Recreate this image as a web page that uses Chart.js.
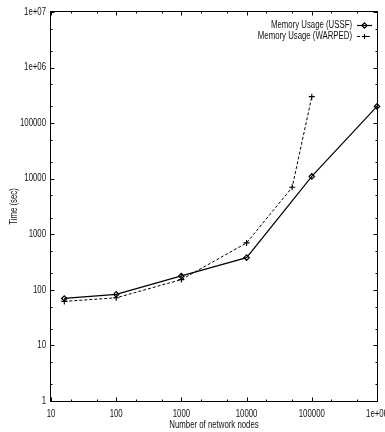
<!DOCTYPE html>
<html>
<head>
<meta charset="utf-8">
<script src="https://cdn.jsdelivr.net/npm/chart.js@4/dist/chart.umd.min.js"></script>
<style>
  html, body { margin: 0; padding: 0; background: #fff; }
  #wrap { width: 385px; height: 432px; }
</style>
</head>
<body>
<div id="wrap"><canvas id="c" width="385" height="432"></canvas></div>
<script>
// Run time against network size, log-log
const ussfNodes   = [16, 100, 1000, 10000, 100000, 1000000];
const ussfTime    = [70, 83, 178, 380, 11000, 200000];
const warpedNodes = [16, 100, 1000, 10000, 50000, 100000];
const warpedTime  = [62, 72, 153, 700, 7000, 300000];

const seriesNames = ['Memory Usage (USSF)', 'Memory Usage (WARPED)'];

const xTickValues = [10, 100, 1000, 10000, 100000, 1000000];
const xTickLabels = ['10', '100', '1000', '10000', '100000', '1e+06'];
const yTickValues = [1, 10, 100, 1000, 10000, 100000, 1000000, 10000000];
const yTickLabels = ['1', '10', '100', '1000', '10000', '100000', '1e+06', '1e+07'];
const minorSteps  = [2, 5];

const xTitle = 'Number of network nodes';
const yTitle = 'Time (sec)';

const FONT = '10px "Liberation Sans", Arial, sans-serif';
const SQUEEZE = 0.78;

function toPoints(xs, ys) {
  return xs.map((x, i) => ({ x: x, y: ys[i] }));
}

function narrowText(ctx, str, x, y, align, baseline, rot) {
  ctx.save();
  ctx.translate(x, y);
  if (rot) ctx.rotate(rot);
  ctx.scale(SQUEEZE, 1);
  ctx.font = FONT;
  ctx.fillStyle = '#111';
  ctx.textAlign = align;
  ctx.textBaseline = baseline;
  ctx.fillText(str, 0, 0);
  ctx.restore();
}

function drawDiamond(ctx, x, y, r) {
  ctx.beginPath();
  ctx.moveTo(x, y - r);
  ctx.lineTo(x + r, y);
  ctx.lineTo(x, y + r);
  ctx.lineTo(x - r, y);
  ctx.closePath();
  ctx.stroke();
}

function drawPlus(ctx, x, y, r) {
  ctx.beginPath();
  ctx.moveTo(x - r, y); ctx.lineTo(x + r, y);
  ctx.moveTo(x, y - r); ctx.lineTo(x, y + r);
  ctx.stroke();
}

// Frame, inward tics on all four sides, tic labels, axis titles and key
const gnuFrame = {
  id: 'gnuFrame',
  afterDraw(chart) {
    const ctx = chart.ctx;
    const a = chart.chartArea;
    const xs = chart.scales.x, ys = chart.scales.y;
    const L = Math.round(a.left) - 0.5, R = Math.round(a.right) + 0.5;
    const T = Math.round(a.top) - 0.5, B = Math.round(a.bottom) + 0.5;

    ctx.save();
    ctx.strokeStyle = '#000';
    ctx.lineWidth = 1;
    ctx.setLineDash([]);
    ctx.strokeRect(L, T, R - L, B - T);

    const major = 4, minor = 2;
    ctx.beginPath();
    xTickValues.forEach((v, i) => {
      const px = Math.round(xs.getPixelForValue(v)) + 0.5;
      ctx.moveTo(px, B); ctx.lineTo(px, B - major);
      ctx.moveTo(px, T); ctx.lineTo(px, T + major);
      if (i < xTickValues.length - 1) {
        minorSteps.forEach(m => {
          const mx = Math.round(xs.getPixelForValue(v * m)) + 0.5;
          ctx.moveTo(mx, B); ctx.lineTo(mx, B - minor);
          ctx.moveTo(mx, T); ctx.lineTo(mx, T + minor);
        });
      }
    });
    yTickValues.forEach((v, i) => {
      const py = Math.round(ys.getPixelForValue(v)) + 0.5;
      ctx.moveTo(L, py); ctx.lineTo(L + major, py);
      ctx.moveTo(R, py); ctx.lineTo(R - major, py);
      if (i < yTickValues.length - 1) {
        minorSteps.forEach(m => {
          const my = Math.round(ys.getPixelForValue(v * m)) + 0.5;
          ctx.moveTo(L, my); ctx.lineTo(L + minor, my);
          ctx.moveTo(R, my); ctx.lineTo(R - minor, my);
        });
      }
    });
    ctx.stroke();

    xTickValues.forEach((v, i) => {
      narrowText(ctx, xTickLabels[i], xs.getPixelForValue(v), a.bottom + 13, 'center', 'middle');
    });
    yTickValues.forEach((v, i) => {
      narrowText(ctx, yTickLabels[i], a.left - 5, ys.getPixelForValue(v), 'right', 'middle');
    });

    narrowText(ctx, xTitle, (a.left + a.right) / 2, a.bottom + 24, 'center', 'middle');
    narrowText(ctx, yTitle, 14, (a.top + a.bottom) / 2, 'center', 'middle', -Math.PI / 2);

    // key, top right
    const keyRows = [a.top + 13, a.top + 24];
    const textRight = a.right - 25;
    const s0 = a.right - 20, s1 = a.right - 5;
    const mid = (s0 + s1) / 2;
    chart.data.datasets.forEach((ds, i) => {
      const y = keyRows[i];
      narrowText(ctx, seriesNames[i], textRight, y, 'right', 'middle');
      ctx.strokeStyle = '#000';
      ctx.lineWidth = ds.borderWidth;
      ctx.setLineDash(ds.borderDash || []);
      ctx.beginPath();
      ctx.moveTo(s0, y + 0.5); ctx.lineTo(s1, y + 0.5);
      ctx.stroke();
      ctx.setLineDash([]);
      ctx.lineWidth = 1.2;
      if (i === 0) drawDiamond(ctx, mid, y + 0.5, 2.6);
      else drawPlus(ctx, mid, y + 0.5, 2.6);
    });
    ctx.restore();
  }
};

new Chart(document.getElementById('c'), {
  type: 'line',
  data: {
    datasets: [
      {
        label: seriesNames[0],
        data: toPoints(ussfNodes, ussfTime),
        borderColor: '#000',
        borderWidth: 1.2,
        pointStyle: 'rectRot',
        pointRadius: 2.7,
        pointBorderWidth: 1.2,
        pointBorderColor: '#000',
        pointBackgroundColor: 'rgba(0,0,0,0)',
        fill: false,
        tension: 0,
        clip: 6
      },
      {
        label: seriesNames[1],
        data: toPoints(warpedNodes, warpedTime),
        borderColor: '#000',
        borderWidth: 1,
        borderDash: [3, 2],
        pointStyle: 'cross',
        pointRadius: 3,
        pointBorderWidth: 1.1,
        pointBorderColor: '#000',
        fill: false,
        tension: 0,
        clip: 6
      }
    ]
  },
  options: {
    responsive: false,
    animation: false,
    devicePixelRatio: 1,
    layout: { padding: { left: 0, right: 8, top: 12, bottom: 0 } },
    plugins: { legend: { display: false }, tooltip: { enabled: false }, title: { display: false } },
    scales: {
      x: {
        type: 'logarithmic',
        min: 10,
        max: 1000000,
        grid: { display: false },
        border: { display: false },
        ticks: { display: false },
        afterFit(scale) { scale.height = 31; }
      },
      y: {
        type: 'logarithmic',
        min: 1,
        max: 10000000,
        grid: { display: false },
        border: { display: false },
        ticks: { display: false },
        afterFit(scale) { scale.width = 51; }
      }
    }
  },
  plugins: [gnuFrame]
});
</script>
</body>
</html>
